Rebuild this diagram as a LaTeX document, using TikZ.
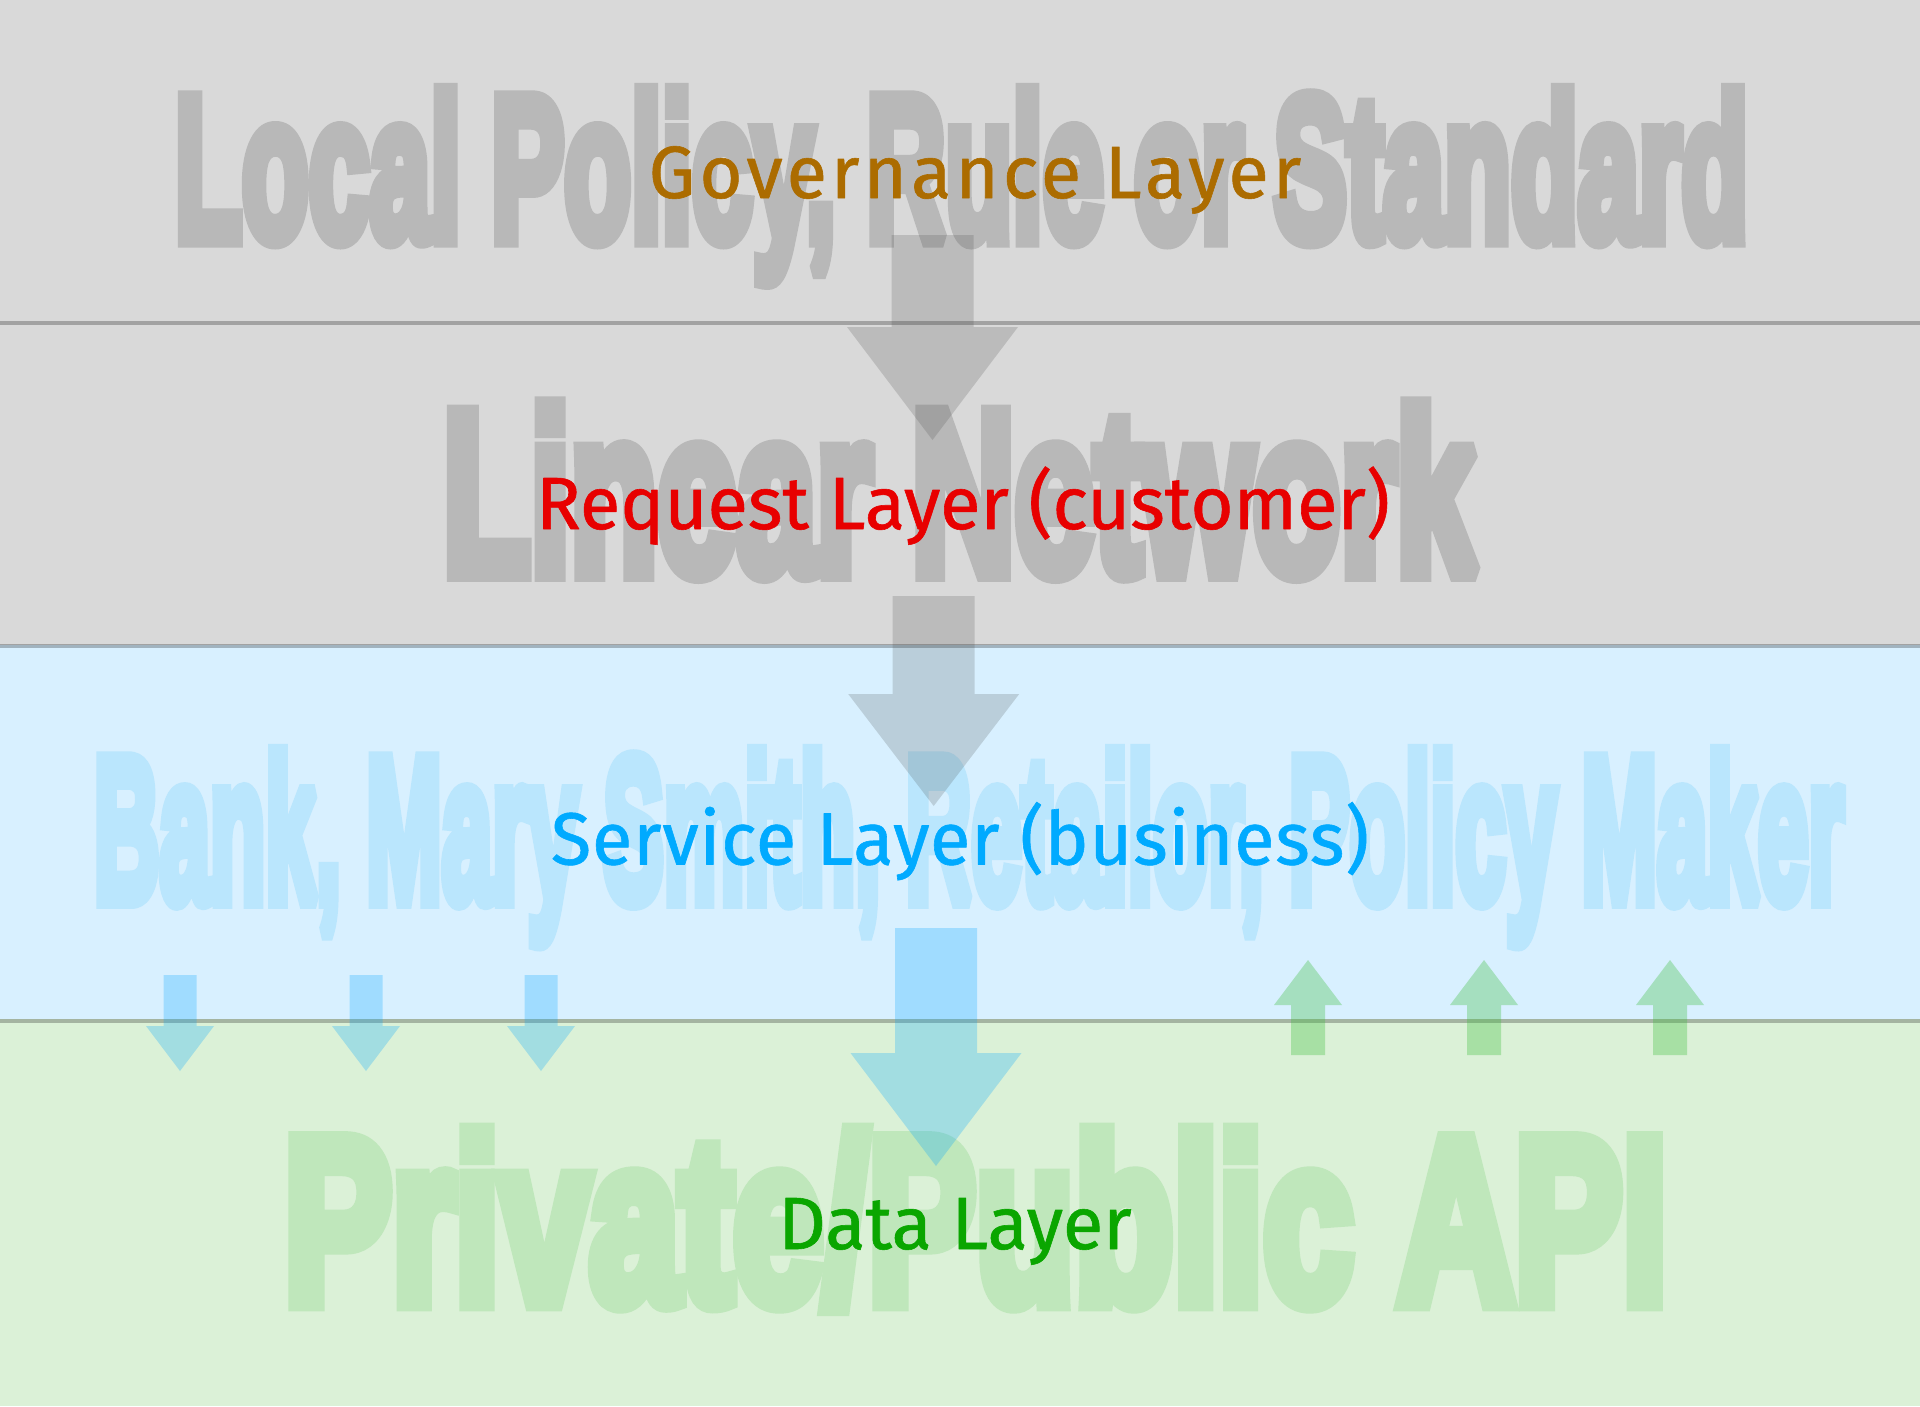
\documentclass[tikz,border=0pt]{standalone}
\usepackage{fontspec}
\newfontfamily\bgfont[FakeBold=8]{Liberation Sans Bold}
\newfontfamily\labfont[FakeBold=0.8]{Fira Sans}
\definecolor{bandgray}{RGB}{217,217,217}
\definecolor{bandblue}{RGB}{216,240,255}
\definecolor{bandgreen}{RGB}{219,241,215}
\definecolor{bggray}{RGB}{184,184,184}
\definecolor{bgblue}{RGB}{186,230,253}
\definecolor{bggreen}{RGB}{191,231,187}
\definecolor{laborange}{RGB}{172,108,0}
\definecolor{labred}{RGB}{232,0,0}
\definecolor{labblue}{RGB}{0,170,255}
\definecolor{labgreen}{RGB}{10,166,0}
\definecolor{arrgray}{RGB}{70,70,70}
\definecolor{arrblue}{RGB}{0,165,255}
\definecolor{arrgreen}{RGB}{62,191,61}
\newcommand\blkarrow[7]{% style, cx, tail, base, tip, shaftw, headw
  \fill[#1] ({#2-#6/2},#3) -- ({#2-#6/2},#4) -- ({#2-#7/2},#4) -- (#2,#5)
    -- ({#2+#7/2},#4) -- ({#2+#6/2},#4) -- ({#2+#6/2},#3) -- cycle;}
\tikzset{
  sepline/.style={draw=black, draw opacity=0.25, line width=4pt},
  bgtext/.style={anchor=base west, inner sep=0pt, outer sep=0pt},
  laytext/.style={anchor=base, inner sep=0pt},
  grayarrow/.style={fill=arrgray, fill opacity=0.2},
  bluearrow/.style={fill=arrblue, fill opacity=0.26},
  greenarrow/.style={fill=arrgreen, fill opacity=0.33}
}
\newcommand\labsized[1]{\fontsize{74}{80}\selectfont\addfontfeatures{LetterSpace=#1}}
\begin{document}
\begin{tikzpicture}[x=1pt,y=-1pt]
\useasboundingbox (0,0) rectangle (1920,1406);
% bands
\fill[bandgray] (0,0) rectangle (1920,645);
\fill[bandblue] (0,645) rectangle (1920,1019);
\fill[bandgreen] (0,1019) rectangle (1920,1406);
% separators
\draw[sepline] (0,323) -- (1920,323);
\draw[sepline] (0,645.5) -- (1920,645.5);
\draw[sepline] (0,1020.5) -- (1920,1020.5);
% background texts
\begin{scope}[line join=miter, miter limit=2]
\node[bgtext, text=bggray] (bg1) at (175,239.3) {\resizebox{1572pt}{148pt}{\bgfont Local Policy, Rule or Standard}};
\node[bgtext, text=bggray] (bg2) at (443,572.5) {\resizebox{1031pt}{166.7pt}{\bgfont Linear Network}};
\node[bgtext, text=bgblue] (bg3) at (94,900.7) {\resizebox{1749pt}{148.4pt}{\bgfont Bank, Mary Smith, Retailor, Policy Maker}};
\node[bgtext, text=bggreen] (bg4) at (284,1302) {\resizebox{1382pt}{169.8pt}{\bgfont Private/Public API}};
\end{scope}
% arrows
\blkarrow{grayarrow}{932.5}{235}{327}{440}{82}{171}
\blkarrow{grayarrow}{933.7}{596}{694}{806}{82}{171}
\blkarrow{bluearrow}{936}{928}{1053}{1166}{82}{171}
\foreach \cx in {180,366,541}{\blkarrow{bluearrow}{\cx}{975}{1026}{1071}{33}{68}}
\foreach \cx in {1308,1484,1670}{\blkarrow{greenarrow}{\cx}{1055}{1005}{960}{34}{68}}
% labels
\begin{scope}[line join=round]
\node[laytext, text=laborange] (gov) at (975,198) {\labfont\labsized{5.5}Governance Layer};
\node[laytext, text=labred] (req) at (963,529) {\labfont\labsized{0}Request Layer (customer)};
\node[laytext, text=labblue] (srv) at (960,864.5) {\labfont\labsized{1}Service Layer (business)};
\node[laytext, text=labgreen] (dat) at (955,1249) {\labfont\labsized{0}Data Layer};
\end{scope}
\end{tikzpicture}
\end{document}
